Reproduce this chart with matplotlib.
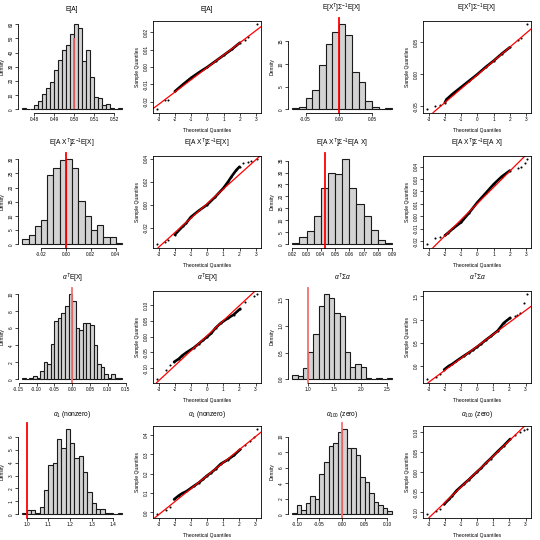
import numpy as np
import matplotlib
matplotlib.use("Agg")
import matplotlib.pyplot as plt

plt.rcParams['font.family'] = ['Liberation Sans', 'DejaVu Sans']
plt.rcParams['mathtext.fontset'] = 'custom'
plt.rcParams['mathtext.rm'] = 'Liberation Sans'
plt.rcParams['mathtext.it'] = 'Liberation Sans:italic'

# ---- panel titles (one per estimator, histogram + qq share it) ----
titles = [
    r"E[A]",
    r"E[X$^T$]$\Sigma^{-1}$E[X]",
    r"E[A X$^T$]$\Sigma^{-1}$E[X]",
    r"E[A X$^T$]$\Sigma^{-1}$E[A X]",
    r"$\alpha^T$E[X]",
    r"$\alpha^T\Sigma\alpha$",
    r"$\alpha_1$ (nonzero)",
    r"$\alpha_{100}$ (zero)",
]

# ---- histograms: first break, bin width, densities, true value ----
h_start = [0.474, -0.07, -0.035, 0.02, -0.14, 0.7, 0.98, -0.11]
h_width = [0.002, 0.01, 0.005, 0.005, 0.01, 0.1, 0.02, 0.01]
h_dens = [
    [1, 0, 0, 3, 6, 11, 15, 19, 28, 35, 42, 45, 53, 60, 57, 34, 42, 23, 9, 8, 3, 4, 1, 0, 1],
    [0.2, 0.6, 2.6, 4.2, 9.8, 14.4, 17.0, 18.8, 16.4, 8.2, 6.0, 1.8, 0.6, 0, 0.2],
    [2.0, 3.2, 6.4, 8.4, 24.4, 26.8, 29.6, 30.0, 26.8, 15.2, 10.0, 5.2, 6.8, 2.4, 2.4, 0.4],
    [0.4, 3.2, 5.6, 12.0, 23.6, 29.6, 29.2, 35.6, 23.6, 16.8, 12.0, 6.0, 2.0, 0.4],
    [0.2, 0, 0.2, 0.4, 0.2, 1.0, 2.0, 1.8, 4.2, 6.8, 7.2, 7.8, 8.6, 10.0, 9.2, 6.0,
     5.8, 6.6, 6.6, 6.4, 4.0, 1.8, 1.4, 0.6, 0.2, 0.6, 0.2, 0.2],
    [0.08, 0.06, 0.22, 0.52, 0.86, 1.38, 1.60, 1.52, 1.24, 1.18, 0.52, 0.24, 0.28,
     0.24, 0.02, 0, 0.02, 0, 0.02],
    [0.1, 0.3, 0.3, 0.1, 0.6, 1.9, 3.8, 4.0, 5.8, 5.1, 6.6, 5.5, 4.4, 4.5, 3.3, 1.7,
     0.9, 0.4, 0.4, 0.1, 0.1, 0, 0.1],
    [0.2, 1.2, 0.6, 1.4, 2.4, 2.0, 5.2, 6.8, 8.8, 9.2, 10.6, 11.0, 8.6, 8.6, 7.6, 4.8,
     4.2, 2.8, 1.6, 1.2, 0.8, 0.4],
]
truth = [0.5, 0.0, 0.0, 0.0428, 0.0, 1.0, 1.0, 0.0]
truth_top = [50, None, None, None, None, None, None, None]
truth_col = ['#f06060', 'red', 'red', 'red', '#f47070', '#f47070', 'red', '#f47070']

h_xlabels = [
    ["0.48", "0.49", "0.50", "0.51", "0.52"],
    ["-0.05", "0.00", "0.05"],
    ["-0.02", "0.00", "0.02", "0.04"],
    ["0.02", "0.03", "0.04", "0.05", "0.06", "0.07", "0.08", "0.09"],
    ["-0.15", "-0.10", "-0.05", "0.00", "0.05", "0.10", "0.15"],
    ["1.0", "1.5", "2.0", "2.5"],
    ["1.0", "1.1", "1.2", "1.3", "1.4"],
    ["-0.10", "-0.05", "0.00", "0.05", "0.10"],
]
h_ylabels = [
    ["0", "10", "20", "30", "40", "50", "60"],
    ["0", "5", "10", "15"],
    ["0", "5", "10", "15", "20", "25", "30"],
    ["0", "5", "10", "15", "20", "25", "30", "35"],
    ["0", "2", "4", "6", "8", "10"],
    ["0.0", "0.5", "1.0", "1.5"],
    ["0", "1", "2", "3", "4", "5", "6"],
    ["0", "2", "4", "6", "8", "10"],
]

# ---- normal qq plots (estimate - truth) ----
qq_x = [
    [-3.08, -2.6, -2.4, -2.0, -1.5, -1.0, -0.5, 0, 0.5, 1.0, 1.5, 2.0, 2.3, 2.5, 3.05],
    [-3.08, -2.6, -2.3, -2.0, -1.9, -1.5, -1.0, -0.5, 0, 0.5, 1.0, 1.5, 2.0, 2.5, 2.65, 3.05],
    [-3.08, -2.6, -2.4, -2.0, -1.5, -1.3, -1.0, -0.5, 0, 0.5, 1.0, 1.3, 1.5, 1.8, 2.0,
     2.2, 2.5, 2.7, 3.08],
    [-3.08, -2.6, -2.3, -2.0, -1.8, -1.5, -1.0, -0.5, 0, 0.5, 1.0, 1.5, 2.0, 2.5, 2.7,
     2.95, 3.05],
    [-3.09, -2.58, -2.33, -2.05, -1.75, -1.55, -1.28, -0.84, -0.52, -0.25, 0, 0.25,
     0.52, 0.84, 1.28, 1.645, 2.05, 2.33, 2.88, 3.09],
    [-3.09, -2.58, -2.33, -2.05, -1.75, -1.55, -1.28, -0.84, -0.52, -0.25, 0, 0.25,
     0.52, 0.84, 1.28, 1.645, 2.05, 2.33, 2.46, 2.65, 2.88, 3.09],
    [-3.09, -2.58, -2.33, -2.05, -1.75, -1.55, -1.28, -0.84, -0.52, -0.25, 0, 0.25,
     0.52, 0.84, 1.28, 1.645, 2.05, 2.33, 2.65, 2.88, 3.09],
    [-3.09, -2.58, -2.33, -2.05, -1.75, -1.55, -1.28, -0.84, -0.52, -0.25, 0, 0.25,
     0.52, 0.84, 1.28, 1.645, 2.05, 2.33, 2.65, 2.88, 3.09],
]
qq_y = [
    [-0.0243, -0.0189, -0.0187, -0.0140, -0.0100, -0.0062, -0.0030, 0.0, 0.0034,
     0.0068, 0.0102, 0.0140, 0.0155, 0.0170, 0.0247],
    [-0.0544, -0.050, -0.048, -0.044, -0.039, -0.030, -0.020, -0.010, 0.0, 0.011,
     0.021, 0.032, 0.042, 0.054, 0.057, 0.078],
    [-0.0343, -0.032, -0.031, -0.026, -0.0186, -0.016, -0.0106, -0.005, 0.0, 0.0068,
     0.0143, 0.020, 0.0243, 0.030, 0.0329, 0.036, 0.0370, 0.0378, 0.0395],
    [-0.0224, -0.0176, -0.0163, -0.0153, -0.0132, -0.0097, -0.0047, 0.003, 0.0113,
     0.0185, 0.0258, 0.032, 0.0368, 0.039, 0.040, 0.0426, 0.046],
    [-0.135, -0.105, -0.09, -0.08, -0.07, -0.06, -0.05, -0.0356, -0.0223, -0.0105,
     -0.0004, 0.0107, 0.0276, 0.043, 0.0584, 0.07, 0.0886, 0.11, 0.13, 0.135],
    [-0.28, -0.225, -0.167, -0.073, 0.008, 0.046, 0.114, 0.219, 0.291, 0.355, 0.418,
     0.484, 0.561, 0.644, 0.765, 0.929, 1.042, 1.083, 1.10, 1.15, 1.35, 1.55],
    [-0.01, 0.013, 0.027, 0.067, 0.087, 0.098, 0.109, 0.135, 0.153, 0.172, 0.19,
     0.205, 0.224, 0.25, 0.272, 0.294, 0.325, 0.35, 0.37, 0.39, 0.43],
    [-0.105, -0.097, -0.093, -0.08, -0.0675, -0.059, -0.046, -0.0298, -0.0185, -0.008,
     0.0015, 0.0107, 0.0223, 0.0345, 0.0524, 0.0664, 0.0833, 0.0925, 0.10, 0.105, 0.108],
]
qq_slope = [0.0071, 0.0216, 0.01262, 0.01302, 0.0476, 0.257, 0.0672, 0.0387]
qq_icept = [-0.0002, -0.0008, 0.001, 0.0104, 0.0034, 0.4285, 0.19, 0.002]
qq_xlabels = ["-3", "-2", "-1", "0", "1", "2", "3"]
qq_ylabels = [
    ["-0.02", "-0.01", "0.00", "0.01", "0.02"],
    ["-0.05", "0.00", "0.05"],
    ["-0.02", "0.00", "0.02", "0.04"],
    ["-0.02", "-0.01", "0.00", "0.01", "0.02", "0.03", "0.04"],
    ["-0.10", "-0.05", "0.00", "0.05", "0.10"],
    ["0.0", "0.5", "1.0", "1.5"],
    ["0.0", "0.1", "0.2", "0.3", "0.4"],
    ["-0.10", "-0.05", "0.00", "0.05", "0.10"],
]

TICK_FS = 3.4
LAB_FS = 3.6
TITLE_FS = 4.8


def set_ticks(ax, xlabels, ylabels):
    xt = [float(s) for s in xlabels]
    yt = [float(s) for s in ylabels]
    ax.set_xticks(xt)
    ax.set_xticklabels(xlabels)
    ax.set_yticks(yt)
    ax.set_yticklabels(ylabels, rotation=90, va='center')
    ax.tick_params(length=2, width=0.5, pad=1.2, labelsize=TICK_FS)
    return xt, yt


def draw_hist(ax, i):
    dens = np.array(h_dens[i])
    left = h_start[i] + h_width[i] * np.arange(len(dens))
    ax.bar(left, dens, width=h_width[i], align='edge', color='#d3d3d3',
           edgecolor='#1a1a1a', linewidth=0.8)
    ax.use_sticky_edges = False
    ax.margins(0.04)
    if truth_top[i] is None:
        ax.axvline(truth[i], color=truth_col[i], lw=1.3, ymax=1.03, clip_on=False)
    else:
        ax.vlines(truth[i], 0, truth_top[i], color=truth_col[i], lw=1.3)
    xt, yt = set_ticks(ax, h_xlabels[i], h_ylabels[i])
    for s in ['top', 'right']:
        ax.spines[s].set_visible(False)
    ax.spines['left'].set_bounds(yt[0], yt[-1])
    ax.spines['bottom'].set_bounds(xt[0], xt[-1])
    for s in ['left', 'bottom']:
        ax.spines[s].set_linewidth(0.6)
    ax.set_ylabel('Density', fontsize=LAB_FS, labelpad=3)
    ax.set_title(titles[i], fontsize=TITLE_FS, pad=7)


def draw_qq(ax, i):
    x = np.array(qq_x[i])
    y = np.array(qq_y[i])
    body = np.abs(x) <= 2.1
    ax.plot(x[body], y[body], '-', color='black', lw=1.9, solid_capstyle='round')
    ax.plot(x, y, 'o', color='black', ms=1.5, mew=0)
    ax.margins(0.04)
    ax.axline((0, qq_icept[i]), slope=qq_slope[i], color='red', lw=0.9)
    set_ticks(ax, qq_xlabels, qq_ylabels[i])
    for s in ax.spines.values():
        s.set_linewidth(0.6)
    ax.set_xlabel('Theoretical Quantiles', fontsize=LAB_FS, labelpad=4)
    ax.set_ylabel('Sample Quantiles', fontsize=LAB_FS, labelpad=3)
    ax.set_title(titles[i], fontsize=TITLE_FS, pad=7)


if __name__ == "__main__":
    fig = plt.figure(figsize=(5.4, 5.4), dpi=100)
    for k in range(8):
        r = k // 2
        c0 = (k % 2) * 2
        for c, func in [(c0, draw_hist), (c0 + 1, draw_qq)]:
            ax = fig.add_axes([(c * 135 + 18.3) / 540, 1 - (r * 135 + 112.7) / 540,
                               107.7 / 540, 92 / 540])
            func(ax, k)
    fig.savefig('out.png', dpi=100)
